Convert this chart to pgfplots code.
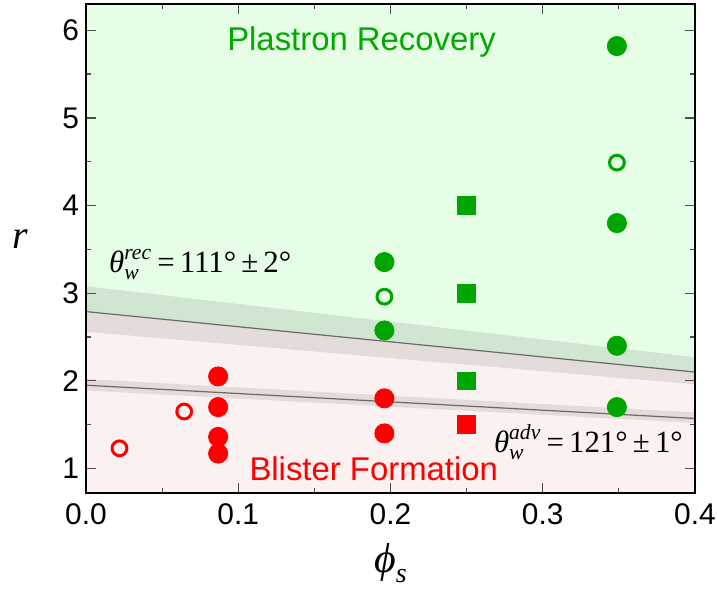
\documentclass[border=0pt]{standalone}
\usepackage{pgfplots}
\pgfplotsset{compat=1.18}
\usepackage{amsmath}
\usepackage{fontspec}
\setmainfont{Liberation Sans}
\newfontfamily\tnr{Liberation Serif}
\usetikzlibrary{calc}

\definecolor{bggreen}{HTML}{E6FDE6}
\definecolor{bgpink}{HTML}{FBF1F1}
\definecolor{mkgreen}{HTML}{00A600}
\definecolor{mkred}{HTML}{FF0000}
\definecolor{txtgreen}{HTML}{00AA00}
\definecolor{bandline}{HTML}{6A6A6A}

\newcommand{\thw}[1]{$\text{\tnr\itshape θ}^{\text{\tnr\itshape #1}}_{\text{\tnr\itshape w}}$}

\begin{document}
\begin{tikzpicture}
\begin{axis}[
  scale only axis,
  width=304.5bp, height=244.5bp,
  xmin=0, xmax=0.4, ymin=0.72, ymax=6.3,
  xtick={0,0.1,0.2,0.3,0.4},
  ytick={1,2,3,4,5,6},
  minor x tick num=1, minor y tick num=1,
  tick align=inside,
  major tick length=5bp, minor tick length=2.5bp,
  tick style={black!70, line width=0.6bp},
  axis line style={black, line width=1bp},
  axis on top,
  clip=true,
  /pgf/number format/assume math mode=true,
  xticklabel style={/pgf/number format/fixed, /pgf/number format/precision=1,
    /pgf/number format/fixed zerofill, yshift=-2bp},
  ticklabel style={font=\fontsize{15}{18}\selectfont},
  xlabel={{\tnr\itshape ϕ}\raisebox{-0.45ex}{\fontsize{14}{16}\selectfont\tnr\itshape s}},
  xlabel style={at={(rel axis cs:0.5,-0.143)}, anchor=center,
    font=\fontsize{21}{24}\selectfont},
  ylabel={\tnr\itshape r},
  ylabel style={at={(rel axis cs:-0.108,0.52)}, anchor=center, rotate=-90,
    font=\fontsize{20}{23}\selectfont},
]
% background regions
\addplot[draw=none, fill=bggreen] coordinates {(0,2.79) (0.4,2.10) (0.4,6.3) (0,6.3)} -- cycle;
\addplot[draw=none, fill=bgpink] coordinates {(0,0.72) (0.4,0.72) (0.4,2.10) (0,2.79)} -- cycle;

% red: blister formation
\addplot[only marks, mark=o, mark size=3.7bp, line width=1.5bp, mkred] coordinates {
  (0.022,1.23) (0.0645,1.65)
};
\addplot[only marks, mark=*, mark size=4.8bp, mkred] coordinates {
  (0.0868,2.05) (0.0868,1.70) (0.0868,1.36) (0.0868,1.17)
  (0.196,1.80) (0.196,1.40)
};
\addplot[only marks, mark=square*, mark size=4.4bp, mkred] coordinates {
  (0.25,1.50)
};

% green: plastron recovery
\addplot[only marks, mark=o, mark size=3.7bp, line width=1.5bp, mkgreen] coordinates {
  (0.196,2.96) (0.3487,4.49)
};
\addplot[only marks, mark=*, mark size=4.8bp, mkgreen] coordinates {
  (0.196,3.355) (0.196,2.575)
  (0.3487,5.82) (0.3487,3.80) (0.3487,2.40) (0.3487,1.70)
};
\addplot[only marks, mark=square*, mark size=4.4bp, mkgreen] coordinates {
  (0.25,4.0) (0.25,3.0) (0.25,2.0)
};

% contact-angle bands (drawn over the markers)
\addplot[draw=none, fill=black, fill opacity=0.09] coordinates {(0,2.56) (0.4,1.96) (0.4,2.27) (0,3.08)} -- cycle;
\addplot[draw=none, fill=black, fill opacity=0.09] coordinates {(0,1.89) (0.4,1.52) (0.4,1.64) (0,2.02)} -- cycle;
\addplot[bandline, line width=0.6bp] coordinates {(0,2.79) (0.4,2.10)};
\addplot[bandline, line width=0.6bp] coordinates {(0,1.95) (0.4,1.57)};

% annotations
\node[txtgreen, font=\fontsize{16.5}{19}\selectfont] at (axis cs:0.181,5.87) {Plastron Recovery};
\node[mkred, font=\fontsize{16.5}{19}\selectfont] at (axis cs:0.189,1.0) {Blister Formation};
\node[font=\fontsize{15.5}{18}\selectfont] at (axis cs:0.075,3.33) {\thw{rec}\,{\tnr =\,111°\,±\,2°}};
\node[font=\fontsize{15.5}{18}\selectfont] at (axis cs:0.33,1.30) {\thw{adv}\,{\tnr =\,121°\,±\,1°}};
\end{axis}
\pgfresetboundingbox
\path ($(current axis.south west)+(-43bp,-49bp)$) rectangle ($(current axis.north east)+(11bp,2bp)$);
\end{tikzpicture}
\end{document}
